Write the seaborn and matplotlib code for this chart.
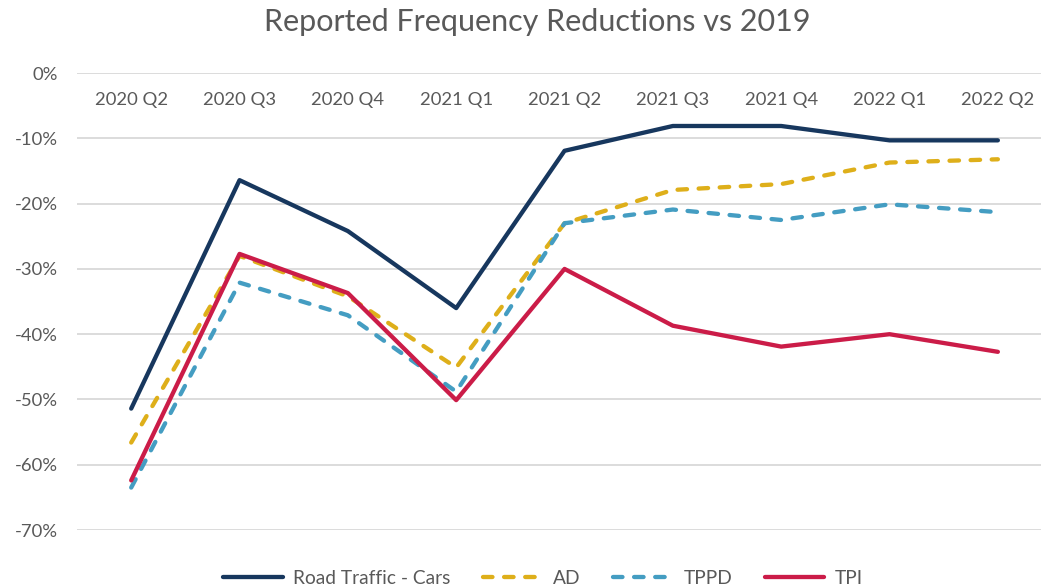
import matplotlib
matplotlib.use('Agg')
import matplotlib.pyplot as plt
import matplotlib.ticker as mtick
import seaborn as sns

quarters = ['2020 Q2', '2020 Q3', '2020 Q4', '2021 Q1', '2021 Q2',
            '2021 Q3', '2021 Q4', '2022 Q1', '2022 Q2']
road_cars = [-51.4, -16.4, -24.2, -36.0, -11.9, -8.1, -8.1, -10.3, -10.3]
ad = [-56.6, -28.0, -34.2, -45.1, -23.0, -17.9, -17.0, -13.7, -13.2]
tppd = [-63.5, -32.1, -37.1, -48.8, -23.0, -20.9, -22.5, -20.1, -21.3]
tpi = [-62.4, -27.7, -33.7, -50.1, -30.0, -38.7, -41.9, -40.0, -42.7]
series_names = ['Road Traffic - Cars', 'AD', 'TPPD', 'TPI']
series_vals = [road_cars, ad, tppd, tpi]
colors = ['#17375E', '#DEAF1A', '#449DC2', '#CB1C48']
dashed = [False, True, True, False]

sns.set_style('white')
plt.rcParams['font.family'] = ['Lato', 'DejaVu Sans']
plt.rcParams['axes.unicode_minus'] = False

fig = plt.figure(figsize=(10.41, 5.85), dpi=100)
ax = fig.add_axes([0.074, 0.094, 0.9366, 0.781])

for name, vals, c, d in zip(series_names, series_vals, colors, dashed):
    ls = (0, (2.2, 2.7)) if d else '-'
    sns.lineplot(x=quarters, y=vals, ax=ax, color=c, linewidth=3.1,
                 linestyle=ls, dash_capstyle='round', solid_capstyle='round',
                 solid_joinstyle='round', label=name, sort=False)

ax.set_xlim(-0.5, 8.5)
ax.set_ylim(-70, 0)
ax.set_yticks(range(-70, 1, 10))
ax.yaxis.set_major_formatter(mtick.StrMethodFormatter('{x:.0f}%'))
ax.grid(axis='y', color='#D9D9D9', linewidth=1.3)
ax.grid(axis='x', visible=False)
ax.set_axisbelow(True)
for s in ax.spines.values():
    s.set_visible(False)

ax.tick_params(axis='x', top=False, labeltop=True, bottom=False, labelbottom=False,
               length=0, pad=-25, labelsize=13.3, labelcolor='#595959')
ax.tick_params(axis='y', length=0, pad=14, labelsize=13.3, labelcolor='#595959')
ax.set_xlabel('')
ax.set_ylabel('')

fig.text(537 / 1041, 1 - 22 / 585, 'Reported Frequency Reductions vs 2019',
         ha='center', va='center', fontsize=22, color='#595959')

ax.legend(loc='center', bbox_to_anchor=(543 / 1041, 1 - 578 / 585),
          bbox_transform=fig.transFigure, ncol=4, frameon=False,
          fontsize=13.8, labelcolor='#595959', handlelength=3.1,
          columnspacing=1.7, handletextpad=0.55)

fig.savefig('out.png', dpi=100)
